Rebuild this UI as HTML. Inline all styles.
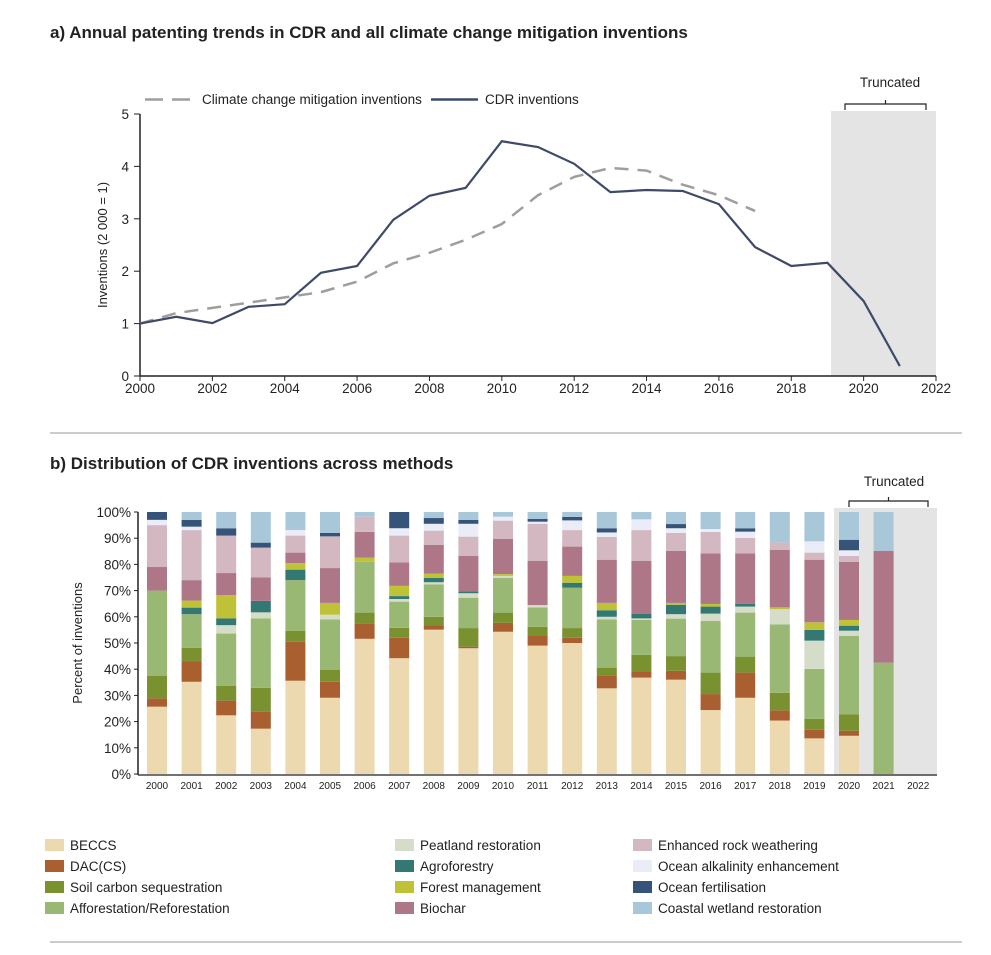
<!DOCTYPE html>
<html><head><meta charset="utf-8">
<style>
body{margin:0;background:#fff;width:991px;height:955px;overflow:hidden;font-family:"Liberation Sans",sans-serif;}
svg{position:absolute;left:0;top:0}
text{font-family:"Liberation Sans",sans-serif;fill:#222}
</style></head>
<body>
<svg id="s" width="991" height="955"></svg>
<script>
// ---- Chart a data ----
const yearsA = [2000,2001,2002,2003,2004,2005,2006,2007,2008,2009,2010,2011,2012,2013,2014,2015,2016,2017,2018,2019,2020,2021];
const cdrValues = [1.0,1.13,1.01,1.32,1.37,1.97,2.1,2.98,3.44,3.59,4.48,4.37,4.05,3.51,3.55,3.53,3.28,2.46,2.1,2.16,1.43,0.19];
const yearsClimate = [2000,2001,2002,2003,2004,2005,2006,2007,2008,2009,2010,2011,2012,2013,2014,2015,2016,2017];
const climateValues = [1.0,1.2,1.3,1.4,1.5,1.6,1.8,2.15,2.35,2.6,2.9,3.45,3.8,3.97,3.92,3.65,3.45,3.15];
const xTicksA = [2000,2002,2004,2006,2008,2010,2012,2014,2016,2018,2020,2022];
const yTicksA = [0,1,2,3,4,5];
// ---- Chart b data ----
const yearsB = [2000,2001,2002,2003,2004,2005,2006,2007,2008,2009,2010,2011,2012,2013,2014,2015,2016,2017,2018,2019,2020,2021,2022];
const methods = ["BECCS","DAC(CS)","Soil carbon sequestration","Afforestation/Reforestation","Peatland restoration","Agroforestry","Forest management","Biochar","Enhanced rock weathering","Ocean alkalinity enhancement","Ocean fertilisation","Coastal wetland restoration"];
const shares = [
[25.7,3.2,8.5,32.6,0,0,0,9,16,2,3,0],
[35.2,7.9,5.1,12.8,0,2.5,2.7,7.8,19.1,1.3,2.6,3],
[22.4,5.6,5.6,20,3.2,2.6,8.9,8.4,14.3,0,2.8,6.2],
[17.3,6.5,9.1,26.5,2.3,4.4,0,9,11.3,0,1.9,11.7],
[35.6,14.9,4.2,19.3,0,4,2.5,4,6.5,2.1,0,6.9],
[29.1,6.1,4.5,19.3,1.8,0,4.5,13.3,12.1,0,1.3,8],
[51.6,5.8,4.2,19.4,0,0,1.6,9.8,5.8,0,0,1.8],
[44.2,7.8,3.8,10,1,1.1,3.9,9,10.2,2.8,6.2,0],
[55.1,1.6,3.3,12.4,0.8,1.7,1.6,11,5.4,2.6,2.2,2.3],
[48,0.6,7.1,11.6,1.7,0.7,0,13.6,7.3,4.9,1.5,3],
[54.3,3.4,3.9,13.2,0.8,0,0.7,13.5,6.9,1.5,0,1.8],
[49,3.9,3.3,7.4,0.9,0,0,16.9,14.1,0.8,1.1,2.6],
[50,2,3.7,15.4,0,1.9,2.6,11.2,6.3,3.7,1.3,1.9],
[32.7,5,2.9,18.4,1,2.5,2.8,16.5,8.7,1.7,1.6,6.2],
[36.8,2.3,6.4,13.3,0.6,1.8,0,20.2,11.7,4.1,0,2.8],
[36,3.4,5.6,14.3,1.7,3.6,0.7,19.9,6.8,1.8,1.6,4.6],
[24.4,6.1,8.2,19.7,2.8,2.7,1,19.3,8.2,1.1,0,6.5],
[29.1,9.6,6.1,16.8,2.3,1,0,19.3,5.9,2.4,1.3,6.2],
[20.4,3.9,6.7,26.1,5.8,0,0.7,22,2.8,0,0,11.6],
[13.6,3.3,4.2,19,10.8,4.1,2.9,23.9,2.7,4.3,0,11.2],
[14.6,1.9,6.3,29.9,2,1.9,2.2,22.2,2.2,2.2,4,10.6],
[0,0,0,42.5,0,0,0,42.7,0,0,0,14.8],
[0,0,0,0,0,0,0,0,0,0,0,0]];
const yTicksB = [0,10,20,30,40,50,60,70,80,90,100];
const colors = ["#ecd9b0","#a95f30","#7a9130","#98b874","#d5dcc8","#337873","#bfc236","#ae7788","#d3b8c2","#eaedf7","#365479","#a8c8d9"];

const NS="http://www.w3.org/2000/svg";
const svg=document.getElementById('s');
function el(tag,attrs,parent,txt){const e=document.createElementNS(NS,tag);for(const k in attrs)e.setAttribute(k,attrs[k]);if(txt!==undefined)e.textContent=txt;(parent||svg).appendChild(e);return e;}

// titles
let t=el('text',{x:50,y:38,'font-size':17,'font-weight':'bold'},svg,'a) Annual patenting trends in CDR and all climate change mitigation inventions');

t=el('text',{x:50,y:469,'font-size':17,'font-weight':'bold'},svg,'b) Distribution of CDR inventions across methods');

let ln=el('line',{x1:50,x2:962,y1:433,y2:433,stroke:'#999','stroke-width':1});

ln=el('line',{x1:50,x2:962,y1:942,y2:942,stroke:'#999','stroke-width':1});


// ---- Chart a ----
const xa=y=>140+(y-2000)*(936-140)/22;
const ya=v=>376-v*52.4;
let g=el('g',{});
let r=el('rect',{x:xa(2019.1),y:111,width:936-xa(2019.1),height:265,fill:'#e4e4e4'},g);

let br=el('path',{d:'M845,110 V104 H926 V110',fill:'none',stroke:'#222','stroke-width':1.2},g);

el('path',{d:'M885.5,104 V100',stroke:'#222','stroke-width':1.2},g);
t=el('text',{x:890,y:87,'font-size':13.5,'text-anchor':'middle'},g,'Truncated');

el('line',{x1:140,x2:140,y1:114,y2:376,stroke:'#222','stroke-width':1.5},g);
el('line',{x1:140,x2:936,y1:376,y2:376,stroke:'#222','stroke-width':1.5},g);
yTicksA.forEach(v=>{el('line',{x1:134,x2:140,y1:ya(v),y2:ya(v),stroke:'#222'},g);
 const tt=el('text',{x:129,y:ya(v)+5,'font-size':13.5,'text-anchor':'end'},g,String(v));
 });
xTicksA.forEach(v=>{el('line',{x1:xa(v),x2:xa(v),y1:376,y2:381,stroke:'#222'},g);
 const tt=el('text',{x:xa(v),y:393,'font-size':13.5,'text-anchor':'middle'},g,String(v));
 });
t=el('text',{x:0,y:0,'font-size':13,'text-anchor':'middle',transform:'translate(107,245) rotate(-90)'},g,'Inventions (2 000 = 1)');

let p=el('polyline',{points:yearsClimate.map((y,i)=>xa(y)+','+ya(climateValues[i])).join(' '),fill:'none',stroke:'#9e9e9e','stroke-width':2.5,'stroke-dasharray':'14,9'},g);

p=el('polyline',{points:yearsA.map((y,i)=>xa(y)+','+ya(cdrValues[i])).join(' '),fill:'none',stroke:'#3d4a68','stroke-width':2.2},g);

let lg=el('g',{},g);
el('line',{x1:145,x2:196,y1:99.5,y2:99.5,stroke:'#9e9e9e','stroke-width':2.5,'stroke-dasharray':'18,9'},lg);
t=el('text',{x:202,y:104,'font-size':13.5},lg,'Climate change mitigation inventions');

el('line',{x1:431,x2:478,y1:99.5,y2:99.5,stroke:'#3d4a68','stroke-width':2.5},lg);
t=el('text',{x:485,y:104,'font-size':13.5},lg,'CDR inventions');


// ---- Chart b ----
const xb=y=>157+(y-2000)*34.6;
const yb=v=>774-v*2.62;
g=el('g',{});
r=el('rect',{x:834,y:508,width:103,height:268,fill:'#e4e4e4'},g);

br=el('path',{d:'M849,507 V501 H928 V507',fill:'none',stroke:'#222','stroke-width':1.2},g);

el('path',{d:'M888.5,501 V497',stroke:'#222','stroke-width':1.2},g);
t=el('text',{x:894,y:486,'font-size':13.5,'text-anchor':'middle'},g,'Truncated');

yearsB.forEach((yr,i)=>{let cum=0;
 shares[i].forEach((v,k)=>{if(v>0){const rr=el('rect',{x:xb(yr)-10,y:yb(cum+v),width:20,height:v*2.62,fill:colors[k]},g);
  }cum+=v;});
 const tt=el('text',{x:xb(yr),y:789,'font-size':10,'text-anchor':'middle'},g,String(yr));
 });
el('line',{x1:138,x2:138,y1:512,y2:775,stroke:'#222','stroke-width':1.5},g);
el('line',{x1:138,x2:937,y1:775,y2:775,stroke:'#444','stroke-width':1.5},g);
yTicksB.forEach(v=>{el('line',{x1:134,x2:138,y1:yb(v),y2:yb(v),stroke:'#222'},g);
 const tt=el('text',{x:131,y:yb(v)+5,'font-size':13.5,'text-anchor':'end'},g,v+'%');
 });
t=el('text',{x:0,y:0,'font-size':13,'text-anchor':'middle',transform:'translate(82,643) rotate(-90)'},g,'Percent of inventions');

lg=el('g',{});
const colX=[45,395,633];
methods.forEach((m,k)=>{const c=Math.floor(k/4),rI=k%4;const yy=845+rI*21;
 const sw=el('rect',{x:colX[c],y:yy-6,width:19,height:12,fill:colors[k]},lg);
 
 const tt=el('text',{x:colX[c]+25,y:yy+5,'font-size':13.5},lg,m);
 });
</script>
</body></html>
